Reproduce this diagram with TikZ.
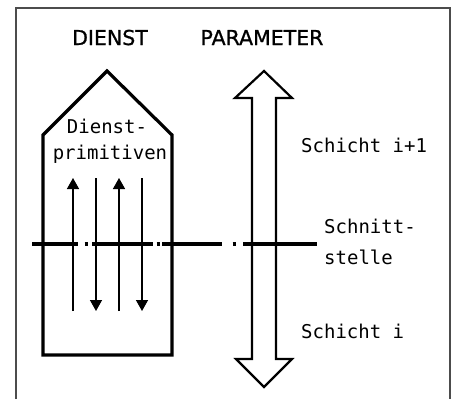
\documentclass[tikz,border=0pt]{standalone}
\usepackage{fontspec}
\setmainfont{DejaVu Sans}
\setmonofont{DejaVu Sans Mono}
\newfontfamily\titelfont{DejaVu Sans}[FakeBold=0.9]
\usetikzlibrary{arrows.meta}

\tikzset{
  titel/.style={font=\titelfont\fontsize{20.5}{24}\selectfont,anchor=base,inner sep=0pt},
  schrift/.style={font=\ttfamily\fontsize{19}{22}\selectfont,inner sep=0pt},
  rahmen/.style={line width=1.2pt,black!70},
  haus/.style={line width=3.2pt,line join=miter},
  dickpfeil/.style={line width=2.2pt,line join=miter},
  primitiv/.style={line width=1.4pt,-{Triangle[width=12pt,length=11pt]}},
  schnitt/.style={line width=3.2pt,dash pattern=on 46pt off 6.5pt on 3pt off 4.5pt on 61pt off 3.5pt on 3pt off 2.5pt on 60pt off 10.5pt on 3pt off 7.5pt on 74pt off 10pt},
}

\begin{document}
\begin{tikzpicture}[x=1pt,y=-1pt]
        \useasboundingbox (0,0) rectangle (454,399);
        % rahmen
        \draw[rahmen] (16,399) -- (16,8) -- (450,8) -- (450,399);
        % titel
        \node[titel] (dienst) at (110,45) {DIENST};
        \node[titel] (parameter) at (262,45) {PARAMETER};
        % dienst
        \coordinate (spitze) at (107,71);
        \coordinate (hausLO) at (43,135);
        \coordinate (hausRO) at (172,135);
        \coordinate (hausLU) at (43,355);
        \coordinate (hausRU) at (172,355);
        \draw[haus] (hausLU) -- (hausLO) -- (spitze) -- (hausRO) -- (hausRU) -- cycle;
        \node[schrift,anchor=base] (dienstA) at (107,133) {Dienst-};
        \node[schrift,anchor=base] (dienstB) at (110,159) {primitiven};
        % dienstprimitiven
        \coordinate (p1o) at (73,178);
        \coordinate (p1u) at (73,311);
        \coordinate (p2o) at (96,178);
        \coordinate (p2u) at (96,311);
        \coordinate (p3o) at (119,178);
        \coordinate (p3u) at (119,311);
        \coordinate (p4o) at (142,178);
        \coordinate (p4u) at (142,311);
        \draw[primitiv] (p1u) -- (p1o);
        \draw[primitiv] (p2o) -- (p2u);
        \draw[primitiv] (p3u) -- (p3o);
        \draw[primitiv] (p4o) -- (p4u);
        % parameter
        \coordinate (pfeilO) at (264,71);
        \coordinate (pfeilU) at (264,387);
        \draw[dickpfeil] (pfeilO) -- (292,98) -- (276,98) -- (276,359) -- (292,359)
                -- (pfeilU) -- (236,359) -- (252,359) -- (252,98) -- (235,98) -- cycle;
        % schnittstelle
        \coordinate (schnittL) at (32,244);
        \coordinate (schnittR) at (317,244);
        \draw[schnitt] (schnittL) -- (schnittR);
        % schichten
        \node[schrift,anchor=base west] (oben) at (301,152) {Schicht i+1};
        \node[schrift,anchor=base west] (schnittA) at (324,233) {Schnitt-};
        \node[schrift,anchor=base west] (schnittB) at (324,264) {stelle};
        \node[schrift,anchor=base west] (unten) at (301,338) {Schicht i};
\end{tikzpicture}
\end{document}
